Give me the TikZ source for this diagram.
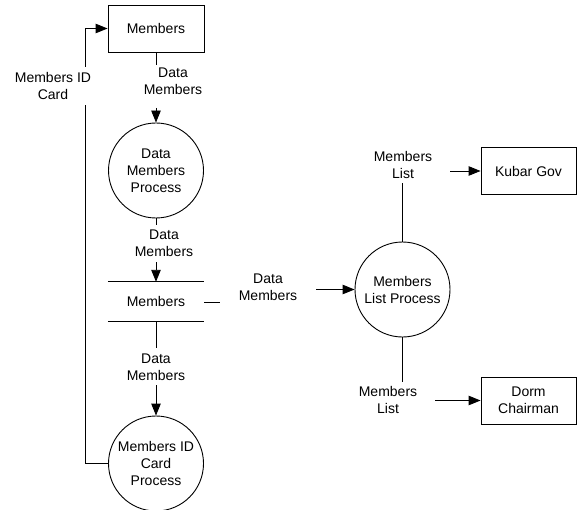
\documentclass[tikz,border=0pt]{standalone}
\usepackage{fontspec}
\setmainfont{Liberation Sans}
\usetikzlibrary{arrows.meta}
\begin{document}
\begin{tikzpicture}[x=1pt,y=-1pt,
  every node/.style={font=\fontsize{14}{17}\selectfont, align=center},
  line/.style={line width=0.9pt},
  arr/.style={line width=0.9pt,-{Triangle[length=12pt,width=9.5pt]}},
  entity/.style={draw,line width=0.9pt,minimum width=95pt,minimum height=47pt,inner sep=0pt},
  proc/.style={draw,circle,line width=0.9pt,minimum size=95pt,inner sep=0pt},
  lab/.style={inner sep=0pt}]
\useasboundingbox (0,0) rectangle (577,510);
% entities
\node[entity,minimum width=96pt] (mem) at (156,28.5) {Members};
\node[entity] (kubar) at (528.5,171) {Kubar Gov};
\node[entity] (dorm) at (528.5,400.5) {Dorm\\Chairman};
% processes
\node[proc] (p1) at (156,170.5) {Data\\Members\\Process};
\node[proc] (p2) at (402.5,289.5) {Members\\List Process};
\node[proc] (p3) at (156,463.5) {Members ID\\Card\\Process};
% data store
\node[minimum width=96pt,minimum height=39pt,inner sep=0pt] (store) at (156,301.5) {\raisebox{-3pt}{Members}};
\draw[line] (store.north west) -- (store.north east);
\draw[line] (store.south west) -- (store.south east);
% labels
\node[lab] (l1) at (173,81.5) {Data\\Members};
\node[lab] (l2) at (164,243.5) {Data\\Members};
\node[lab] (l3) at (268,287.5) {Data\\Members};
\node[lab] (l4) at (156,367) {Data\\Members};
\node[lab] (l5) at (403,165) {Members\\List};
\node[lab] (l6) at (388,399.5) {Members\\List};
\node[lab] (l7) at (53,85.5) {Members ID\\Card};
% free ends
\coordinate (a1) at (156,65);
\coordinate (a2) at (156,108);
\coordinate (b1) at (156,225);
\coordinate (b2) at (156,262);
\coordinate (c1) at (220,302);
\coordinate (c2) at (316,289.5);
\coordinate (d1) at (156,348);
\coordinate (d2) at (156,385);
\coordinate (e1) at (402.5,183);
\coordinate (e2) at (450,171);
\coordinate (f1) at (402.5,382);
\coordinate (f2) at (435,400.5);
\coordinate (g1) at (85,105);
\coordinate (g2) at (85,67);
% connectors
\draw[line] (mem.south) -- (a1);
\draw[arr] (a2) -- (p1.north);
\draw[line] (p1.south) -- (b1);
\draw[arr] (b2) -- (store.north);
\draw[line] (store.east |- c1) -- (c1);
\draw[arr] (c2) -- (p2.west);
\draw[line] (store.south) -- (d1);
\draw[arr] (d2) -- (p3.north);
\draw[line] (p2.north) -- (e1);
\draw[arr] (e2) -- (kubar.west);
\draw[line] (p2.south) -- (f1);
\draw[arr] (f2) -- (dorm.west);
\draw[line] (p3.west) -| (g1);
\draw[arr] (g2) |- (mem.west);
\end{tikzpicture}
\end{document}
